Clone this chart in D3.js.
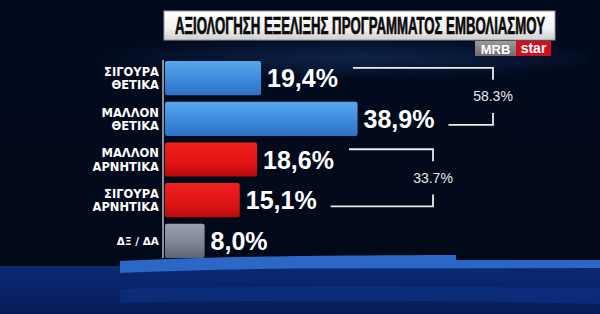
<!DOCTYPE html>
<html>
<head>
<meta charset="utf-8">
<script src="https://cdn.jsdelivr.net/npm/d3@7"></script>
<style>
  html, body { margin: 0; padding: 0; background: #020a1c; }
  svg { display: block; }
</style>
</head>
<body>
<div id="chart"></div>
<script>
// data
const categories = [
    ['ΣΙΓΟΥΡΑ', 'ΘΕΤΙΚΑ'],
    ['ΜΑΛΛΟΝ', 'ΘΕΤΙΚΑ'],
    ['ΜΑΛΛΟΝ', 'ΑΡΝΗΤΙΚΑ'],
    ['ΣΙΓΟΥΡΑ', 'ΑΡΝΗΤΙΚΑ'],
    ['ΔΞ / ΔΑ']
];
const values = [19.4, 38.9, 18.6, 15.1, 8.0];
const kinds = ['pos', 'pos', 'neg', 'neg', 'none'];
const groupRanges = [[0, 1], [2, 3]];
const groupLabels = ['58.3%', '33.7%'];
const title = 'ΑΞΙΟΛΟΓΗΣΗ ΕΞΕΛΙΞΗΣ ΠΡΟΓΡΑΜΜΑΤΟΣ ΕΜΒΟΛΙΑΣΜΟΥ';

const width = 600;
const height = 314;

const svg = d3.select('#chart')
    .append('svg')
    .attr('width', width)
    .attr('height', height);

const defs = svg.append('defs');

// gradients
function linearGrad(id, stops, vertical = true) {
    const g = defs.append('linearGradient').attr('id', id)
        .attr('x1', 0).attr('y1', 0)
        .attr('x2', vertical ? 0 : 1).attr('y2', vertical ? 1 : 0);
    stops.forEach(s => g.append('stop').attr('offset', s[0]).attr('stop-color', s[1]));
}
linearGrad('bg', [[0, '#020b1e'], [0.5, '#020a1c'], [1, '#010816']]);
linearGrad('pos', [[0, '#5aa6ec'], [0.5, '#3f8ddf'], [1, '#2d6fc4']]);
linearGrad('neg', [[0, '#f02020'], [0.6, '#e01414'], [1, '#b80c0c']]);
linearGrad('none', [[0, '#9aa0ae'], [0.6, '#7d8393'], [1, '#5d6373']]);
linearGrad('titleBox', [[0, '#ffffff'], [0.6, '#f1f1f1'], [1, '#cfcfcf']]);
linearGrad('mrb', [[0, '#9a9a9a'], [1, '#6e6e6e']]);
linearGrad('bottom', [[0, '#0a2a72'], [0.5, '#082468'], [1, '#061d58']]);

const glow = defs.append('radialGradient').attr('id', 'glow')
    .attr('cx', 0.55).attr('cy', 0.5).attr('r', 0.5);
glow.append('stop').attr('offset', 0).attr('stop-color', '#1a3d7a').attr('stop-opacity', 0.5);
glow.append('stop').attr('offset', 1).attr('stop-color', '#1a3d7a').attr('stop-opacity', 0);

// background
svg.append('rect').attr('width', width).attr('height', height).attr('fill', 'url(#bg)');
svg.append('ellipse')
    .attr('cx', 330).attr('cy', 58).attr('rx', 260).attr('ry', 22)
    .attr('fill', 'url(#glow)');

// bottom floor
svg.append('path')
    .attr('d', 'M0,266 L120,266 L600,264 L600,314 L0,314 Z')
    .attr('fill', 'url(#bottom)');
svg.append('path')
    .attr('d', 'M120,261 C200,257 290,255.5 456,255 L456,260 L600,260 L600,268 L290,268.5 C220,269.5 170,271 120,273 Z')
    .attr('fill', '#2b68c6');
svg.append('path')
    .attr('d', 'M120,289 C250,286 420,286 600,288 L600,304 C420,300 250,300 120,303 Z')
    .attr('fill', '#0c3590').attr('opacity', 0.5);

// title
svg.append('rect')
    .attr('x', 164).attr('y', 11).attr('width', 391).attr('height', 29)
    .attr('fill', 'url(#titleBox)')
    .attr('stroke', '#9a9a9a').attr('stroke-width', 1);
const titleText = svg.append('text')
    .attr('font-family', 'Liberation Sans, Arial, sans-serif')
    .attr('font-weight', 'bold')
    .attr('font-size', 23)
    .attr('fill', '#0a0a0a')
    .attr('stroke', '#0a0a0a')
    .attr('stroke-width', 0.7)
    .text(title);
// squeeze the title into the box like a condensed face
const natural = titleText.node().getComputedTextLength();
titleText.attr('transform', `translate(175,34) scale(${370 / natural},1)`);

// logo
svg.append('rect').attr('x', 475).attr('y', 41).attr('width', 41).attr('height', 15).attr('fill', 'url(#mrb)');
svg.append('text')
    .attr('x', 495.5).attr('y', 53.5).attr('text-anchor', 'middle')
    .attr('font-family', 'Liberation Sans, Arial, sans-serif').attr('font-weight', 'bold')
    .attr('font-size', 13).attr('fill', '#ffffff').text('MRB');
svg.append('rect').attr('x', 516).attr('y', 41).attr('width', 35).attr('height', 15).attr('fill', '#d0101c');
svg.append('text')
    .attr('x', 533.5).attr('y', 53).attr('text-anchor', 'middle')
    .attr('font-family', 'Liberation Sans, Arial, sans-serif').attr('font-weight', 'bold')
    .attr('font-size', 14).attr('fill', '#ffffff').text('star');

// scales
const x = d3.scaleLinear().domain([0, 40]).range([165, 363]);
const y = d3.scaleBand()
    .domain(d3.range(values.length))
    .range([61, 258])
    .paddingInner(0.16)
    .paddingOuter(0);

const fmt = v => d3.format('.1f')(v).replace('.', ',') + '%';

// bars
const rows = svg.append('g').selectAll('g')
    .data(values)
    .join('g');

rows.append('rect')
    .attr('x', x(0))
    .attr('y', (d, i) => y(i))
    .attr('width', d => x(d) - x(0))
    .attr('height', y.bandwidth())
    .attr('rx', 2)
    .attr('fill', (d, i) => `url(#${kinds[i]})`);

// axis line
svg.append('line')
    .attr('x1', x(0) - 2).attr('x2', x(0) - 2)
    .attr('y1', y(0) - 1).attr('y2', y(values.length - 1) + y.bandwidth())
    .attr('stroke', '#e8e8e8').attr('stroke-width', 1.2);

// category labels
rows.append('text')
    .attr('text-anchor', 'end')
    .attr('font-family', 'DejaVu Sans, sans-serif')
    .attr('font-weight', 'bold')
    .attr('font-size', (d, i) => categories[i].length > 1 ? 11.5 : 10.5)
    .attr('fill', '#ffffff')
    .each(function(d, i) {
        const lines = categories[i];
        const cy = y(i) + y.bandwidth() / 2;
        const lh = 13.5;
        lines.forEach((t, k) => {
            d3.select(this).append('tspan')
                .attr('x', x(0) - 6)
                .attr('y', cy + (k - (lines.length - 1) / 2) * lh + 4.5)
                .text(t);
        });
    });

// value labels
const valueText = rows.append('text')
    .attr('x', d => x(d) + 6)
    .attr('y', (d, i) => y(i) + y.bandwidth() / 2 + 9)
    .attr('font-family', 'Liberation Sans, Arial, sans-serif')
    .attr('font-weight', 'bold')
    .attr('font-size', 25)
    .attr('fill', '#ffffff')
    .text(d => fmt(d));

const labelEnds = [];
valueText.each(function(d, i) {
    const b = this.getBBox();
    labelEnds[i] = b.x + b.width;
});

// group brackets
const bracketRight = [493, 433];
const brackets = svg.append('g')
    .attr('fill', 'none')
    .attr('stroke', '#ececec')
    .attr('stroke-width', 1.8);

groupRanges.forEach((r, gi) => {
    const [a, b] = r;
    const rx = bracketRight[gi];
    const topY = y(a) + y.bandwidth() * 0.2;
    const botY = y(b) + y.bandwidth() * 0.68;
    const topEnd = y(a) + y.bandwidth() * 0.55;
    const botStart = y(b) + y.bandwidth() * 0.33;
    brackets.append('path')
        .attr('d', `M${labelEnds[a] + 15},${topY} H${rx} V${topEnd}`);
    brackets.append('path')
        .attr('d', `M${labelEnds[b] + 14},${botY} H${rx} V${botStart}`);
    svg.append('text')
        .attr('x', rx)
        .attr('y', (topEnd + botStart) / 2 + 5)
        .attr('text-anchor', 'middle')
        .attr('font-family', 'Liberation Sans, Arial, sans-serif')
        .attr('font-size', 14)
        .attr('fill', '#e8e8e8')
        .text(groupLabels[gi]);
});
</script>
</body>
</html>
